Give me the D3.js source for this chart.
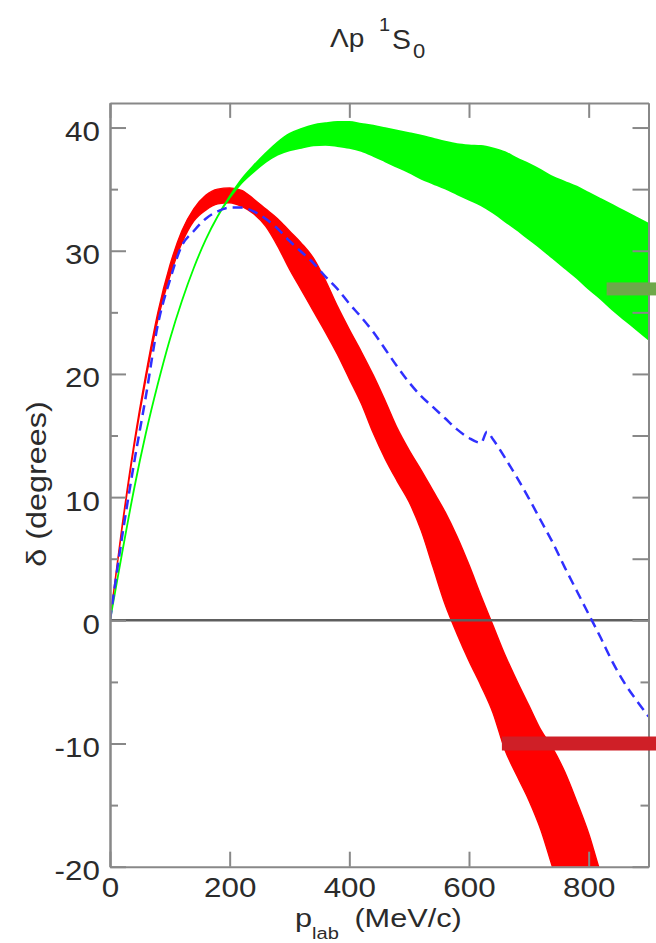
<!DOCTYPE html>
<html>
<head>
<meta charset="utf-8">
<script src="https://cdn.jsdelivr.net/npm/d3@7/dist/d3.min.js"></script>
<style>
  body { margin: 0; background: #fff; }
  svg text { font-family: "Liberation Sans", Arial, Helvetica, sans-serif; fill: #2b2b2b; }
</style>
</head>
<body>
<div id="viz"></div>
<script>
// red band (p_lab in MeV/c, delta in degrees)
var redP  = [0, 20, 40, 60, 80, 100, 120, 140, 160, 180, 200, 220, 240, 260, 280, 300, 320, 340, 360, 380, 400,
             420, 440, 460, 480, 500, 520, 540, 560, 580, 600, 620, 640, 660, 680, 700, 720, 740, 760, 780, 800, 820, 840];
var redHi = [0, 7.6, 14.3, 20.0, 25.0, 28.8, 31.6, 33.4, 34.5, 35.0, 35.1, 34.9, 34.2, 33.4, 32.6, 31.6, 30.6, 29.4, 27.6, 25.5, 23.6,
             21.8, 19.9, 17.8, 15.6, 13.8, 12.2, 10.5, 8.8, 6.8, 4.5, 2.0, -0.4, -2.8, -4.9, -6.9, -8.9, -10.4, -12.3, -14.7, -17.3, -20.5, -23];
var redLo = [0, 7.4, 14.0, 19.6, 24.4, 27.9, 30.6, 32.4, 33.3, 33.8, 33.9, 33.6, 33.0, 32.0, 30.4, 28.5, 26.8, 25.1, 23.4, 21.6, 19.6,
             17.6, 15.2, 13.1, 11.3, 9.6, 7.3, 4.3, 1.3, -1.1, -3.3, -5.3, -7.5, -10.5, -12.6, -14.6, -17.0, -20.1, -23, -25, -27, -29, -31];

// green band
var greenP  = [0, 20, 40, 60, 80, 100, 120, 140, 160, 180, 200, 220, 240, 260, 280, 300, 320, 340, 360, 380, 400, 420, 440,
               460, 480, 500, 520, 540, 560, 580, 600, 620, 640, 660, 680, 700, 720, 740, 760, 780, 800, 820, 840, 860, 880, 900];
var greenHi = [0, 5.4, 10.6, 15.2, 19.2, 22.8, 25.9, 28.6, 30.9, 32.8, 34.4, 35.8, 36.9, 37.9, 38.8, 39.5, 39.9, 40.2, 40.35, 40.45, 40.45, 40.3, 40.15,
               39.95, 39.75, 39.55, 39.35, 39.1, 38.85, 38.65, 38.55, 38.5, 38.3, 38.0, 37.5, 37.05, 36.55, 36.0, 35.6, 35.2, 34.7, 34.2, 33.7, 33.2, 32.7, 32.2];
var greenLo = [0, 5.4, 10.6, 15.2, 19.2, 22.8, 25.9, 28.6, 30.9, 32.8, 34.3, 35.5, 36.4, 37.2, 37.8, 38.15, 38.35, 38.55, 38.6, 38.5, 38.35, 38.1, 37.7,
               37.25, 36.8, 36.35, 35.85, 35.45, 35.05, 34.6, 34.15, 33.7, 33.1, 32.4, 31.7, 30.95, 30.2, 29.4, 28.6, 27.8, 26.9, 26.1, 25.2, 24.4, 23.6, 22.8];

// blue dashed curve
var blueP = [0, 20, 40, 60, 80, 100, 120, 140, 160, 180, 200, 220, 240, 260, 280, 300, 320, 340, 360, 380, 400, 420, 440, 460,
             480, 500, 520, 540, 560, 580, 600, 620, 630, 640, 660, 680, 700, 720, 740, 760, 780, 800, 820, 840, 860, 880, 900];
var blueV = [0, 6.7, 12.7, 18.2, 24.0, 27.6, 30.4, 31.6, 32.6, 33.2, 33.5, 33.5, 33.2, 32.6, 31.8, 30.8, 29.9, 29.0, 27.9, 26.9, 25.7, 24.6, 23.4, 22.0,
             20.6, 19.3, 18.2, 17.3, 16.4, 15.5, 14.8, 14.4, 15.3, 14.7, 13.2, 11.6, 9.9, 8.1, 6.3, 4.3, 2.4, 0.5, -1.4, -3.4, -5.1, -6.5, -7.8];

// overlay bars on the right
var markStart = [830, 655];
var markValue = [26.9, -10.0];

var xTicks = [0, 200, 400, 600, 800];
var yTicks = [-20, -10, 0, 10, 20, 30, 40];
var yMinor = [-15, -5, 5, 15, 25, 35];

var width = 656,
    height = 943;

var svg = d3.select("#viz")
  .append("svg")
    .attr("width", width)
    .attr("height", height);

var x = d3.scaleLinear().domain([0, 900]).range([110, 648.5]);
var y = d3.scaleLinear().domain([-20, 42]).range([866.7, 102.9]);

svg.append("defs").append("clipPath").attr("id", "clip")
  .append("rect")
    .attr("x", x(0)).attr("y", y(42))
    .attr("width", x(900) - x(0)).attr("height", y(-20) - y(42));

var plot = svg.append("g").attr("clip-path", "url(#clip)");

var band = d3.area()
    .curve(d3.curveMonotoneX)
    .x(function(d) { return x(d.p); })
    .y0(function(d) { return y(d.lo); })
    .y1(function(d) { return y(d.hi); });

var red = redP.map(function(p, i) { return {p: p, lo: redLo[i], hi: redHi[i]}; });
var green = greenP.map(function(p, i) { return {p: p, lo: greenLo[i], hi: greenHi[i]}; });

plot.append("path")
    .datum(red)
    .attr("d", band)
    .style("fill", "#ff0000")
    .style("stroke", "#ff0000")
    .style("stroke-width", 1.4);

plot.append("path")
    .datum(green)
    .attr("d", band)
    .style("fill", "#00ff00")
    .style("stroke", "#00ff00")
    .style("stroke-width", 1.8);

plot.append("line")
    .attr("x1", x(0)).attr("x2", x(900))
    .attr("y1", y(0)).attr("y2", y(0))
    .style("stroke", "#5e5e5e")
    .style("stroke-width", 2.5);

var blueLine = d3.line()
    .curve(d3.curveMonotoneX)
    .x(function(d, i) { return x(blueP[i]); })
    .y(function(d) { return y(d); });

plot.append("path")
    .datum(blueV)
    .attr("d", blueLine)
    .style("fill", "none")
    .style("stroke", "#3030ff")
    .style("stroke-width", 2.5)
    .style("stroke-dasharray", "10,6");

// axes (ticks point inward)
function styleAxis(g) {
  g.attr("color", "#888");
  g.select(".domain").style("stroke-width", 2);
  g.selectAll(".tick line").style("stroke-width", 2);
  g.selectAll("text")
    .attr("font-size", 28)
    .style("fill", "#2b2b2b")
    .attr("font-family", null);
}

var plain = function(d) { return String(d); };

svg.append("g")
    .attr("transform", "translate(" + x(0) + ",0)")
    .call(d3.axisLeft(y).tickValues(yTicks).tickFormat(plain).tickSize(-16).tickSizeOuter(0).tickPadding(9))
    .call(styleAxis)
    .selectAll("text")
      .attr("dy", "0.46em")
      .attr("transform", "scale(1.12,1)");

svg.append("g")
    .attr("transform", "translate(" + x(0) + ",0)")
    .call(d3.axisLeft(y).tickValues(yMinor).tickSize(-8).tickSizeOuter(0).tickFormat(""))
    .call(styleAxis);

svg.append("g")
    .attr("transform", "translate(" + x(900) + ",0)")
    .call(d3.axisRight(y).tickValues(yTicks.concat([5, 15, 25, 35])).tickSize(-16).tickSizeOuter(0).tickFormat(""))
    .call(styleAxis);

svg.append("g")
    .attr("transform", "translate(" + x(900) + ",0)")
    .call(d3.axisRight(y).tickValues([-15, -5]).tickSize(-8).tickSizeOuter(0).tickFormat(""))
    .call(styleAxis);

svg.append("g")
    .attr("transform", "translate(0," + y(-20) + ")")
    .call(d3.axisBottom(x).tickValues(xTicks).tickFormat(plain).tickSize(-15).tickSizeOuter(0).tickPadding(10))
    .call(styleAxis)
    .selectAll("text")
      .attr("transform", "scale(1.12,1)");

svg.append("g")
    .attr("transform", "translate(0," + y(42) + ")")
    .call(d3.axisTop(x).tickValues(xTicks).tickSize(-15).tickSizeOuter(0).tickFormat(""))
    .call(styleAxis);

// overlay bars
var markColor = ["#6ea84a", "#cf1f27"];
var markHeight = [13, 14];
svg.selectAll("rect.mark")
  .data(markValue)
  .enter()
  .append("rect")
    .attr("class", "mark")
    .attr("x", function(d, i) { return x(markStart[i]); })
    .attr("y", function(d, i) { return y(d) - markHeight[i] / 2; })
    .attr("width", function(d, i) { return width - x(markStart[i]); })
    .attr("height", function(d, i) { return markHeight[i]; })
    .style("fill", function(d, i) { return markColor[i]; });

// axis titles
var xl = svg.append("text")
    .attr("transform", "translate(295,927) scale(1.18,1)")
    .attr("font-size", 26);
xl.append("tspan").text("p");
xl.append("tspan").attr("font-size", 17).attr("dy", 12).text("lab");
xl.append("tspan").attr("dy", -12).attr("dx", 6).text(" (MeV/c)");

svg.append("text")
    .attr("transform", "translate(46,484) rotate(-90) scale(1.2,1)")
    .attr("font-size", 27)
    .attr("text-anchor", "middle")
    .text("δ  (degrees)");

// title
var title = svg.append("g");
title.append("text").attr("transform", "translate(330,47) scale(1.12,1)").attr("font-size", 25).text("Λp");
title.append("text").attr("transform", "translate(379,31) scale(1.05,1)").attr("font-size", 19).text("1");
title.append("text").attr("transform", "translate(392,49) scale(1.05,1)").attr("font-size", 27).text("S");
title.append("text").attr("transform", "translate(413,58) scale(1.1,1)").attr("font-size", 20).text("0");
</script>
</body>
</html>
